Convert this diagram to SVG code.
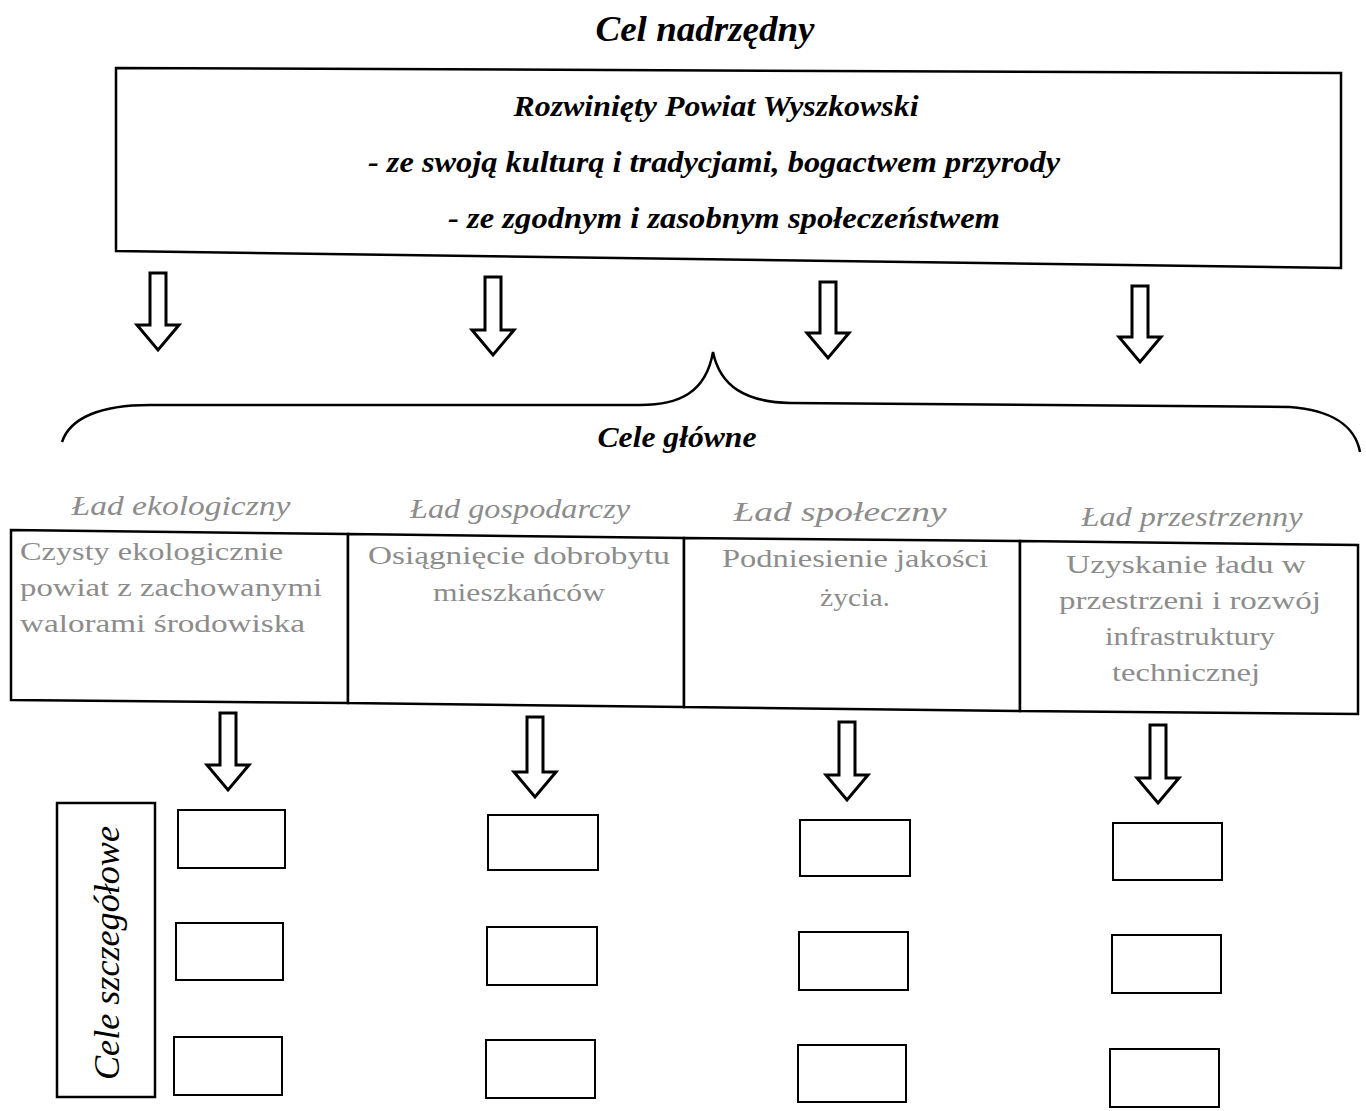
<svg xmlns="http://www.w3.org/2000/svg" width="1366" height="1111" viewBox="0 0 1366 1111">
<style>
.bg{fill:#fff}
.box{fill:#fff;stroke:#000;stroke-width:2.5}
.sbox{fill:#fff;stroke:#000;stroke-width:2}
.arr{fill:#fff;stroke:#000;stroke-width:3;stroke-linejoin:miter}
.brace{fill:none;stroke:#000;stroke-width:2.5}
.bi{font-family:"Liberation Serif","Times New Roman",serif;font-weight:bold;font-style:italic;fill:#000;text-anchor:middle}
.gi{font-family:"Liberation Serif","Times New Roman",serif;font-style:italic;fill:#8c8c8c;text-anchor:middle;font-size:28px}
.gt{font-family:"Liberation Serif","Times New Roman",serif;fill:#8c8c8c;font-size:26px}
.it{font-family:"Liberation Serif","Times New Roman",serif;font-style:italic;fill:#000;text-anchor:middle;font-size:36px}
</style>
<rect class="bg" x="0" y="0" width="1366" height="1111"/>

<g id="title">
<text class="bi" x="705" y="41" font-size="35" textLength="219" lengthAdjust="spacingAndGlyphs">Cel nadrzędny</text>
</g>

<g id="cel-nadrzedny">
<polygon class="box" points="116,68 1341,73 1341,268 116,251"/>
<text class="bi" x="716" y="116" font-size="30" textLength="405" lengthAdjust="spacingAndGlyphs">Rozwinięty Powiat Wyszkowski</text>
<text class="bi" x="714" y="172" font-size="30" textLength="692" lengthAdjust="spacingAndGlyphs">- ze swoją kulturą i tradycjami, bogactwem przyrody</text>
<text class="bi" x="724" y="228" font-size="30" textLength="552" lengthAdjust="spacingAndGlyphs">- ze zgodnym i zasobnym społeczeństwem</text>
</g>

<g id="connectors">
<path class="arr" d="M150,273 H166 V325 H179 L158,350 L137,325 H150 Z"/>
<path class="arr" d="M485,277 H501 V330 H514 L493,355 L472,330 H485 Z"/>
<path class="arr" d="M820,282 H836 V333 H849 L828,358 L807,333 H820 Z"/>
<path class="arr" d="M1132,286 H1148 V337 H1161 L1140,362 L1119,337 H1132 Z"/>
<path class="brace" d="M62,442 C70,418 100,405 150,405 L640,405 C680,405 706,392 713,352 C720,386 745,402 790,403 L1290,407 C1330,410 1355,425 1360,452"/>
<path class="arr" d="M220,713 H236 V765 H249 L228,790 L207,765 H220 Z"/>
<path class="arr" d="M527,717 H543 V772 H556 L535,797 L514,772 H527 Z"/>
<path class="arr" d="M839,722 H855 V775 H868 L847,800 L826,775 H839 Z"/>
<path class="arr" d="M1150,725 H1166 V778 H1179 L1158,803 L1137,778 H1150 Z"/>
</g>

<g id="cele-glowne">
<text class="bi" x="677" y="447" font-size="30" textLength="159" lengthAdjust="spacingAndGlyphs">Cele główne</text>
</g>

<g id="lady">
<text class="gi" x="181" y="515" textLength="219" lengthAdjust="spacingAndGlyphs">Ład ekologiczny</text>
<text class="gi" x="520" y="518" textLength="220" lengthAdjust="spacingAndGlyphs">Ład gospodarczy</text>
<text class="gi" x="840" y="521" textLength="213" lengthAdjust="spacingAndGlyphs">Ład społeczny</text>
<text class="gi" x="1192" y="526" textLength="221" lengthAdjust="spacingAndGlyphs">Ład przestrzenny</text>
</g>

<g id="cel-ekologiczny">
<polygon class="box" points="11,530 348,534 348,703 11,700"/>
<text class="gt" x="20" y="560" textLength="263" lengthAdjust="spacingAndGlyphs">Czysty ekologicznie</text>
<text class="gt" x="20" y="596" textLength="302" lengthAdjust="spacingAndGlyphs">powiat z zachowanymi</text>
<text class="gt" x="20" y="632" textLength="285" lengthAdjust="spacingAndGlyphs">walorami środowiska</text>
</g>

<g id="cel-gospodarczy">
<polygon class="box" points="348,534 684,538 684,707 348,703"/>
<text class="gt" x="519" y="564" text-anchor="middle" textLength="302" lengthAdjust="spacingAndGlyphs">Osiągnięcie dobrobytu</text>
<text class="gt" x="519" y="601" text-anchor="middle" textLength="172" lengthAdjust="spacingAndGlyphs">mieszkańców</text>
</g>

<g id="cel-spoleczny">
<polygon class="box" points="684,538 1020,541 1020,711 684,707"/>
<text class="gt" x="855" y="567" text-anchor="middle" textLength="266" lengthAdjust="spacingAndGlyphs">Podniesienie jakości</text>
<text class="gt" x="855" y="606" text-anchor="middle" textLength="70" lengthAdjust="spacingAndGlyphs">życia.</text>
</g>

<g id="cel-przestrzenny">
<polygon class="box" points="1020,541 1358,545 1358,714 1020,711"/>
<text class="gt" x="1186" y="573" text-anchor="middle" textLength="240" lengthAdjust="spacingAndGlyphs">Uzyskanie ładu w</text>
<text class="gt" x="1190" y="609" text-anchor="middle" textLength="262" lengthAdjust="spacingAndGlyphs">przestrzeni i rozwój</text>
<text class="gt" x="1190" y="645" text-anchor="middle" textLength="170" lengthAdjust="spacingAndGlyphs">infrastruktury</text>
<text class="gt" x="1186" y="681" text-anchor="middle" textLength="148" lengthAdjust="spacingAndGlyphs">technicznej</text>
</g>

<g id="cele-szczegolowe">
<rect class="box" x="57" y="803" width="98" height="294"/>
<text class="it" transform="translate(119,953) rotate(-90)" textLength="254" lengthAdjust="spacingAndGlyphs">Cele szczegółowe</text>
</g>

<g id="col1">
<rect class="sbox" x="178" y="810" width="107" height="58"/>
<rect class="sbox" x="176" y="923" width="107" height="57"/>
<rect class="sbox" x="174" y="1037" width="108" height="58"/>
</g>
<g id="col2">
<rect class="sbox" x="488" y="815" width="110" height="55"/>
<rect class="sbox" x="487" y="927" width="110" height="58"/>
<rect class="sbox" x="486" y="1040" width="109" height="58"/>
</g>
<g id="col3">
<rect class="sbox" x="800" y="820" width="110" height="56"/>
<rect class="sbox" x="799" y="932" width="109" height="58"/>
<rect class="sbox" x="798" y="1045" width="108" height="57"/>
</g>
<g id="col4">
<rect class="sbox" x="1113" y="823" width="109" height="57"/>
<rect class="sbox" x="1112" y="935" width="109" height="58"/>
<rect class="sbox" x="1110" y="1049" width="109" height="58"/>
</g>
</svg>
